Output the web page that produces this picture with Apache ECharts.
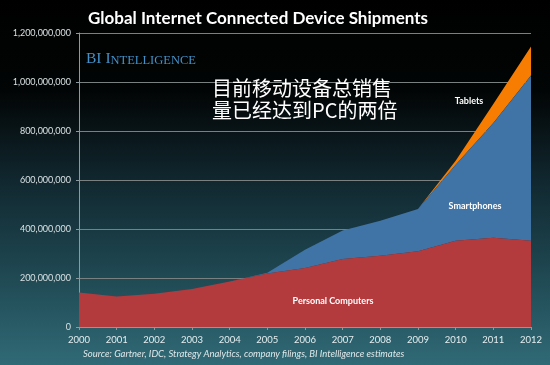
<!DOCTYPE html>
<html>
<head>
<meta charset="utf-8">
<script src="https://cdn.jsdelivr.net/npm/echarts@6/dist/echarts.min.js"></script>
<style>
html,body{margin:0;padding:0;background:#000;}
#chart{width:550px;height:365px;}
</style>
</head>
<body>
<div id="chart"></div>
<script>
// Data (units)
var years = ['2000','2001','2002','2003','2004','2005','2006','2007','2008','2009','2010','2011','2012'];
var personalComputers = [141e6,125e6,136e6,155e6,186e6,218e6,241e6,278e6,291e6,309e6,352e6,364e6,352e6];
var smartphones = [0,0,0,0,0,3e6,74e6,116e6,143e6,173e6,310e6,469e6,675e6];
var tablets = [0,0,0,0,0,0,0,0,0,0,17e6,77e6,118e6];
var seriesNames = ['Personal Computers','Smartphones','Tablets'];
var titleText = 'Global Internet Connected Device Shipments';
var sourceText = 'Source: Gartner, IDC, Strategy Analytics, company filings, BI Intelligence estimates';
var noteLines = ['目前移动设备总销售', '量已经达到PC的两倍'];

function fmt(v){ return String(v).replace(/\B(?=(\d{3})+(?!\d))/g, ','); }

var chart = echarts.init(document.getElementById('chart'), null, {renderer:'canvas'});
var FONT = 'Lato, "Open Sans", sans-serif';
var option = {
  animation:false,
  backgroundColor: new echarts.graphic.LinearGradient(0,0,0,1,[
    {offset:0,color:'#000000'},
    {offset:0.25,color:'#020505'},
    {offset:0.5,color:'#112830'},
    {offset:0.75,color:'#1f4852'},
    {offset:1,color:'#306a76'}
  ]),
  title:{
    text:titleText, left:83, top:5,
    textStyle:{color:'#ffffff', fontSize:17, fontWeight:'bold', fontFamily:FONT}
  },
  grid:{left:79, right:19, top:33, bottom:38, containLabel:false, outerBoundsMode:'none'},
  xAxis:{
    type:'category', data:years, boundaryGap:false,
    axisLine:{show:true, lineStyle:{color:'#8a9a9e', width:1}},
    axisTick:{show:true, alignWithLabel:true, length:3, lineStyle:{color:'#8a9a9e'}},
    axisLabel:{color:'#e6eef0', fontSize:9.5, fontFamily:FONT, margin:8}
  },
  yAxis:{
    type:'value', min:0, max:1200000000, interval:200000000,
    name:'Units', nameLocation:'middle', nameGap:59, nameRotate:90,
    nameTextStyle:{color:'#ffffff', fontSize:9, fontWeight:'bold', fontFamily:FONT},
    axisLine:{show:true, lineStyle:{color:'#8a9a9e', width:1}},
    axisTick:{show:true, length:3, lineStyle:{color:'#8a9a9e'}},
    axisLabel:{color:'#d8e0e2', fontSize:9, fontFamily:FONT, margin:8, formatter:fmt},
    splitLine:{show:true, lineStyle:{color:'#7a7f80', width:1}}
  },
  series:[
    {name:seriesNames[0], type:'line', stack:'all', data:personalComputers, symbol:'none',
     lineStyle:{width:0}, areaStyle:{color:'#b33b3e', opacity:1}, z:3},
    {name:seriesNames[1], type:'line', stack:'all', data:smartphones, symbol:'none',
     lineStyle:{width:0}, areaStyle:{color:'#4174a6', opacity:1}, z:2},
    {name:seriesNames[2], type:'line', stack:'all', data:tablets, symbol:'none',
     lineStyle:{width:0}, areaStyle:{color:'#f77c02', opacity:1}, z:1}
  ],
  graphic:[
    {type:'text', left:86, top:51, z:10, style:{
      text:'{a|BI I}{b|NTELLIGENCE}', fill:'#3d8cc4',
      rich:{a:{fontSize:15.5, fontFamily:'"Liberation Serif", serif', fill:'#4391c8', verticalAlign:'bottom'},
            b:{fontSize:12.5, fontFamily:'"Liberation Serif", serif', fill:'#4391c8', verticalAlign:'bottom'}}
    }},
    {type:'text', left:212, top:77, z:10, style:{
      text:noteLines.join('\n'), fill:'#ffffff', lineHeight:22,
      font:'20px "Noto Sans CJK SC", sans-serif'
    }},
    {type:'text', x:469, y:101, z:10, style:{text:seriesNames[2], fill:'#ffffff', font:'bold 9px '+FONT, textAlign:'center', textVerticalAlign:'middle'}},
    {type:'text', x:475, y:206, z:10, style:{text:seriesNames[1], fill:'#ffffff', font:'bold 9px '+FONT, textAlign:'center', textVerticalAlign:'middle'}},
    {type:'text', x:333, y:301, z:10, style:{text:seriesNames[0], fill:'#ffffff', font:'bold 9px '+FONT, textAlign:'center', textVerticalAlign:'middle'}},
    {type:'text', x:83, y:354, z:10, style:{text:sourceText, fill:'#e0e8ea', font:'italic 9.5px '+FONT, textAlign:'left', textVerticalAlign:'middle'}}
  ]
};
chart.setOption(option);
</script>
</body>
</html>
